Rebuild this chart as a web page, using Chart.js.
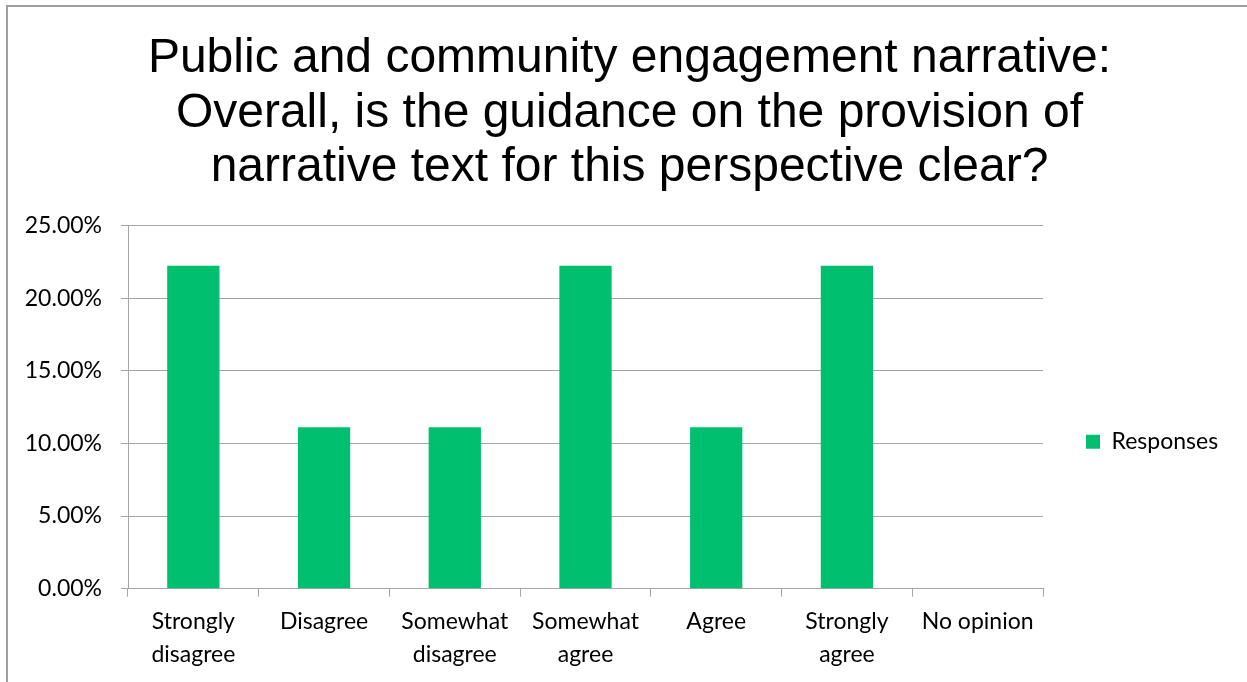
<!DOCTYPE html>
<html>
<head>
<meta charset="utf-8">
<script src="https://cdn.jsdelivr.net/npm/chart.js@4/dist/chart.umd.min.js"></script>
<style>
  html, body { margin: 0; padding: 0; background: #fff; overflow: hidden; }
  #frame {
    position: absolute; left: 6px; top: 5px; width: 1400px; height: 800px;
    border-top: 2px solid #a0a0a0; border-left: 2px solid #a0a0a0;
  }
  #chart { position: absolute; left: 0; top: 0; }
</style>
</head>
<body>
<div id="frame"></div>
<canvas id="chart" width="1247" height="682"></canvas>
<script>
// データ
const titleLines = [
  'Public and community engagement narrative:',
  'Overall, is the guidance on the provision of',
  'narrative text for this perspective clear?'
];
const categories = [
  ['Strongly', 'disagree'],
  'Disagree',
  ['Somewhat', 'disagree'],
  ['Somewhat', 'agree'],
  'Agree',
  ['Strongly', 'agree'],
  'No opinion'
];
const responses = [0.2222, 0.1111, 0.1111, 0.2222, 0.1111, 0.2222, 0];
const seriesName = 'Responses';

const gridColor = '#a6a6a6';
const barColor = '#00c070';
const tickFont = { family: 'Lato, "Open Sans", sans-serif', size: 23, lineHeight: 1.35 };
const catFont = { family: 'Lato, "Open Sans", sans-serif', size: 23, lineHeight: 1.42 };

// 凡例の幅を固定してプロット右端を合わせる
const legendWidthPlugin = {
  id: 'legendWidth',
  beforeLayout(chart) {
    const legend = chart.legend;
    if (legend && !legend.$fixedWidth) {
      const fit = legend.fit;
      legend.fit = function () {
        fit.call(this);
        this.width = 194;
      };
      legend.$fixedWidth = true;
    }
  }
};

const ctx = document.getElementById('chart').getContext('2d');
new Chart(ctx, {
  type: 'bar',
  data: {
    labels: categories,
    datasets: [{
      label: seriesName,
      data: responses,
      backgroundColor: barColor,
      borderWidth: 0,
      barPercentage: 0.4,
      categoryPercentage: 1.0
    }]
  },
  options: {
    responsive: false,
    animation: false,
    layout: { padding: { left: 22, right: 10, top: 0, bottom: 2 } },
    scales: {
      x: {
        grid: {
          display: true,
          drawOnChartArea: false,
          drawTicks: true,
          tickLength: 8,
          color: gridColor,
          offset: true
        },
        border: { display: true, color: gridColor, width: 1 },
        ticks: {
          color: '#000',
          font: catFont,
          padding: 9,
          maxRotation: 0,
          autoSkip: false
        }
      },
      y: {
        min: 0,
        max: 0.25,
        grid: { color: gridColor, tickLength: 7 },
        border: { display: true, color: gridColor, width: 1 },
        ticks: {
          stepSize: 0.05,
          color: '#000',
          font: tickFont,
          padding: 19,
          callback: v => (v * 100).toFixed(2) + '%'
        },
        // 軸の位置を固定
        afterFit: scale => { scale.width = 106; }
      }
    },
    plugins: {
      title: {
        display: true,
        text: titleLines,
        color: '#000',
        font: { family: '"Liberation Sans", Arial, sans-serif', size: 48, weight: 'normal', lineHeight: 1.135 },
        padding: { top: 32, bottom: 30 }
      },
      legend: {
        display: true,
        position: 'right',
        fullSize: false,
        title: { display: true, text: '', font: { size: 12 }, padding: { top: 0, bottom: 55 } },
        labels: {
          boxWidth: 14,
          boxHeight: 14,
          padding: 43,
          color: '#000',
          font: tickFont
        }
      },
      tooltip: { enabled: false }
    }
  },
  plugins: [legendWidthPlugin]
});
</script>
</body>
</html>
